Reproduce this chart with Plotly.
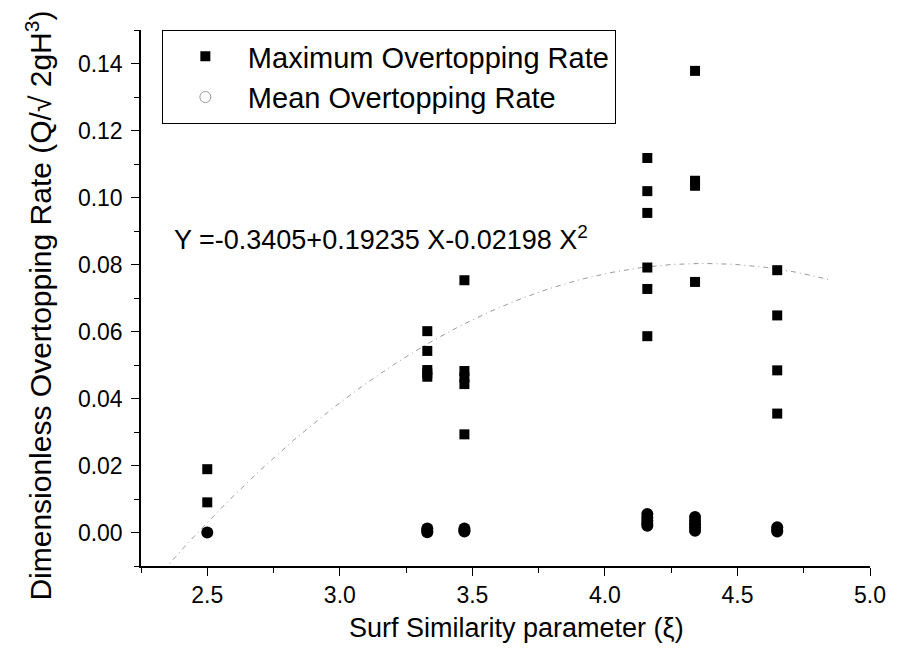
import numpy as np
import plotly.graph_objects as go

# ---- data ----
x_max = [2.5, 2.5,
         3.33, 3.33, 3.33, 3.33, 3.33,
         3.47, 3.47, 3.47, 3.47, 3.47,
         4.16, 4.16, 4.16, 4.16, 4.16, 4.16,
         4.34, 4.34, 4.34, 4.34,
         4.65, 4.65, 4.65, 4.65]
y_max = [0.0189, 0.0090,
         0.0601, 0.0542, 0.0485, 0.0475, 0.0465,
         0.0753, 0.0482, 0.0463, 0.0443, 0.0293,
         0.1118, 0.1019, 0.0954, 0.0791, 0.0727, 0.0586,
         0.1378, 0.1050, 0.1035, 0.0748,
         0.0783, 0.0648, 0.0484, 0.0355]

x_mean = [2.5,
          3.33, 3.33, 3.33,
          3.47, 3.47, 3.47,
          4.16, 4.16, 4.16, 4.16, 4.16,
          4.34, 4.34, 4.34, 4.34, 4.34,
          4.65, 4.65, 4.65]
y_mean = [0.0,
          0.0012, 0.0006, 0.0001,
          0.0012, 0.0006, 0.0003,
          0.0055, 0.0045, 0.0035, 0.0027, 0.0020,
          0.0046, 0.0035, 0.0025, 0.0015, 0.0005,
          0.0016, 0.0008, 0.0003]

# quadratic fit shown on the chart: Y = a + b X + c X^2
fit_coef = [-0.3405, 0.19235, -0.02198]
fit_x_range = [2.30, 4.85]

x_ticks = [2.5, 3.0, 3.5, 4.0, 4.5, 5.0]
y_ticks = [0.00, 0.02, 0.04, 0.06, 0.08, 0.10, 0.12, 0.14]

fit_x = np.linspace(fit_x_range[0], fit_x_range[1], 200)
fit_y = fit_coef[0] + fit_coef[1] * fit_x + fit_coef[2] * fit_x ** 2

FONT = "Liberation Sans, Arial, sans-serif"

fig = go.Figure()
fig.add_trace(go.Scatter(x=fit_x, y=fit_y, mode="lines", showlegend=False,
                         line=dict(color="#9a9a9a", width=1, dash="5px,4px,1px,4px"),
                         hoverinfo="skip"))
fig.add_trace(go.Scatter(x=x_max, y=y_max, mode="markers", name="Maximum Overtopping Rate",
                         marker=dict(symbol="square", size=10, color="black")))
fig.add_trace(go.Scatter(x=x_mean, y=y_mean, mode="markers", name="Mean Overtopping Rate",
                         showlegend=False,
                         marker=dict(symbol="circle", size=12, color="black")))
# legend entry for the mean series (drawn hollow in the original legend)
fig.add_trace(go.Scatter(x=[None], y=[None], mode="markers", name="Mean Overtopping Rate",
                         marker=dict(symbol="circle-open", size=11, color="#9a9a9a",
                                     line=dict(width=1))))

fig.add_annotation(x=2.366, y=0.0878, xref="x", yref="y", xanchor="left", yanchor="middle",
                   text="Y =-0.3405+0.19235 X-0.02198 X<sup>2</sup>", showarrow=False,
                   font=dict(family=FONT, size=27, color="black"))

# axis titles
fig.add_annotation(x=0.5157, y=-0.1157, xref="paper", yref="paper", xanchor="center",
                   yanchor="middle", showarrow=False, text="Surf Similarity parameter (ξ)",
                   font=dict(family=FONT, size=27, color="black"))
fig.add_annotation(x=-0.1405, y=0.485, xref="paper", yref="paper", xanchor="center",
                   yanchor="middle", showarrow=False, textangle=-90,
                   text="Dimensionless Overtopping Rate (Q/√ 2gH<sup>3</sup>)",
                   font=dict(family=FONT, size=30, color="black"))

fig.update_xaxes(range=[2.25, 5.0], tickvals=x_ticks, ticktext=[f"{v:.1f}" for v in x_ticks],
                 ticks="outside", ticklen=8, tickwidth=1, tickcolor="black",
                 minor=dict(dtick=0.25, tick0=2.25, ticks="outside", ticklen=5, tickcolor="black"),
                 showline=True, linecolor="black", linewidth=1.5, showgrid=False, zeroline=False,
                 tickfont=dict(family=FONT, size=23, color="black"))
fig.update_yaxes(range=[-0.01, 0.15], tickvals=y_ticks, ticktext=[f"{v:.2f}" for v in y_ticks],
                 ticks="outside", ticklen=8, tickwidth=1, tickcolor="black", ticklabelstandoff=4,
                 minor=dict(dtick=0.01, tick0=0, ticks="outside", ticklen=5, tickcolor="black"),
                 showline=True, linecolor="black", linewidth=1.5, showgrid=False, zeroline=False,
                 tickfont=dict(family=FONT, size=23, color="black"))

# page body adds an 8px offset, so the figure is 8px smaller and the left/top margins compensate
fig.update_layout(width=890, height=642, margin=dict(l=133, r=24, t=22, b=84),
                  paper_bgcolor="white", plot_bgcolor="white",
                  legend=dict(x=0.0286, y=1.0, xanchor="left", yanchor="top",
                              bordercolor="black", borderwidth=1, bgcolor="white",
                              itemwidth=75, tracegroupgap=0,
                              font=dict(family=FONT, size=29, color="black")),
                  font=dict(family=FONT, color="black"))

fig.write_html("out.html")
